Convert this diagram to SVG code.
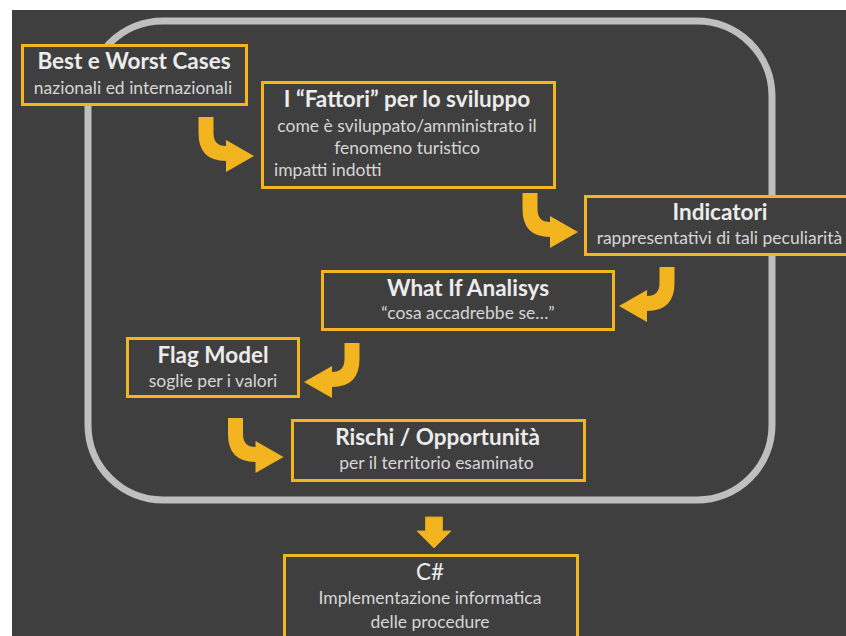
<svg xmlns="http://www.w3.org/2000/svg" width="846" height="636" viewBox="0 0 846 636">
  <defs>
    <style>
      .box { fill: #3f3f3f; stroke: #f2b41f; stroke-width: 3; }
      .title { font-family: Lato, "Open Sans", "Liberation Sans", sans-serif; font-weight: bold; font-size: 22.5px; fill: #ececec; text-anchor: middle; }
      .sub { font-family: Lato, "Open Sans", "Liberation Sans", sans-serif; font-size: 17.5px; fill: #d6d6d6; text-anchor: middle; }
      .arrow { fill: #f2b41f; }
    </style>
    <path id="bend" d="M-7.5,0 V16 Q-7.5,44 20,44 V55 L48,39 L20,23 V29 Q7.5,29 7.5,16 V0 Z"/>
  </defs>

  <rect x="0" y="0" width="846" height="636" fill="#ffffff"/>
  <rect x="12" y="10" width="834" height="626" fill="#3f3f3f"/>

  <rect id="frame" x="88" y="21" width="684" height="479" rx="75" ry="75" fill="none" stroke="#bfbfbf" stroke-width="7"/>

  <g id="connectors" class="arrow">
    <use href="#bend" transform="translate(206,117)"/>
    <use href="#bend" transform="translate(530,193)"/>
    <use href="#bend" transform="translate(667,267) scale(-1,1)"/>
    <use href="#bend" transform="translate(352,343) scale(-1,1)"/>
    <use href="#bend" transform="translate(235.5,418)"/>
    <polygon points="425.5,517 442.5,517 442.5,531 451,531 434,548 417,531 425.5,531" stroke="#d9a01a" stroke-width="1"/>
  </g>

  <g id="best-worst">
    <rect class="box" x="22.5" y="45.5" width="224" height="59"/>
    <text class="title" x="134" y="69">Best e Worst Cases</text>
    <text class="sub" x="133" y="94">nazionali ed internazionali</text>
  </g>

  <g id="fattori">
    <rect class="box" x="262.5" y="82.5" width="292" height="105"/>
    <text class="title" x="407" y="107">I “Fattori” per lo sviluppo</text>
    <text class="sub" x="407" y="132">come è sviluppato/amministrato il</text>
    <text class="sub" x="407" y="154">fenomeno turistico</text>
    <text class="sub" x="274" y="176" style="text-anchor:start">impatti indotti</text>
  </g>

  <g id="indicatori">
    <rect class="box" x="585.5" y="196.5" width="280" height="58"/>
    <text class="title" x="720" y="220">Indicatori</text>
    <text class="sub" x="719.5" y="244">rappresentativi di tali peculiarità</text>
  </g>

  <g id="whatif">
    <rect class="box" x="322.5" y="271.5" width="291" height="58"/>
    <text class="title" x="468" y="296">What If Analisys</text>
    <text class="sub" x="468" y="319">“cosa accadrebbe se…”</text>
  </g>

  <g id="flag">
    <rect class="box" x="127.5" y="338.5" width="171" height="58"/>
    <text class="title" x="213" y="363">Flag Model</text>
    <text class="sub" x="213" y="387">soglie per i valori</text>
  </g>

  <g id="rischi">
    <rect class="box" x="292.5" y="420.5" width="292" height="60"/>
    <text class="title" x="437.5" y="445">Rischi / Opportunità</text>
    <text class="sub" x="436.5" y="469">per il territorio esaminato</text>
  </g>

  <g id="csharp">
    <rect class="box" x="284.5" y="555.5" width="293" height="100"/>
    <text class="title" x="430" y="580" style="font-weight:normal">C#</text>
    <text class="sub" x="430" y="604">Implementazione informatica</text>
    <text class="sub" x="430" y="628">delle procedure</text>
  </g>
</svg>
